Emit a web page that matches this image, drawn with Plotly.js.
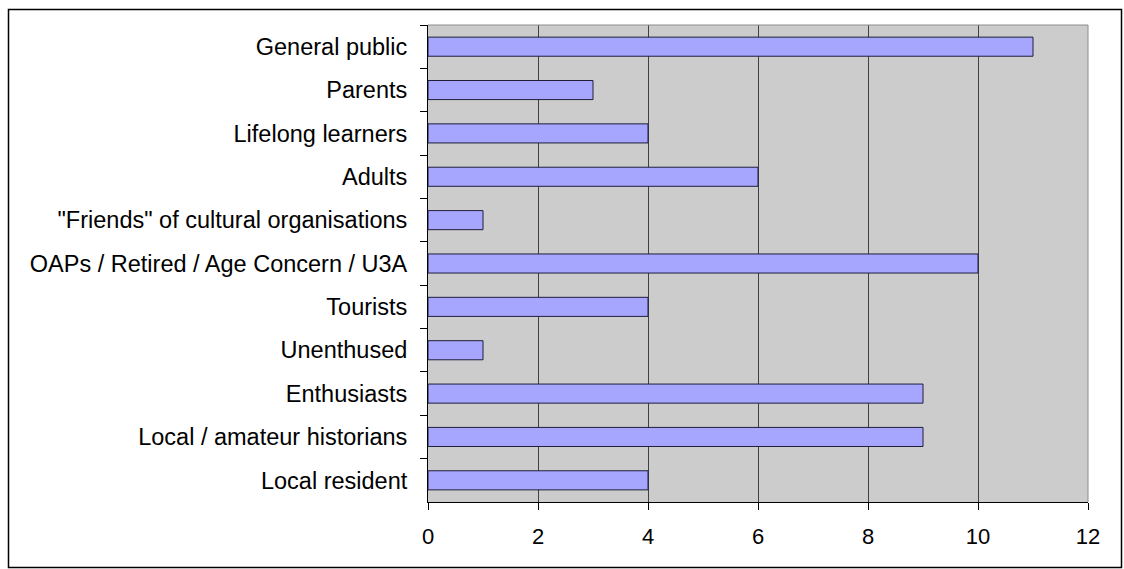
<!DOCTYPE html>
<html>
<head>
<meta charset="utf-8">
<script src="https://cdn.plot.ly/plotly-3.0.1.min.js"></script>
<style>
  html, body { margin: 0; padding: 0; background: #fff; }
  #chart { width: 1124px; height: 569px; }
</style>
</head>
<body>
<div id="chart"></div>
<script>
// Audience groups, listed from top to bottom
const groups = [
  "General public",
  "Parents",
  "Lifelong learners",
  "Adults",
  "\"Friends\" of cultural organisations",
  "OAPs / Retired / Age Concern / U3A",
  "Tourists",
  "Unenthused",
  "Enthusiasts",
  "Local / amateur historians",
  "Local resident"
];
const counts = [11, 3, 4, 6, 1, 10, 4, 1, 9, 9, 4];
const xTicks = [0, 2, 4, 6, 8, 10, 12];

const FONT = "Liberation Sans, Arial, sans-serif";

// plot area in pixels: left 428, right 1088, top 25, bottom 502
const W = 1124, H = 569;
const L = 428, R = 1088, T = 25, B = 502;
const px = v => (v - L) / (R - L);
const py = v => (B - v) / (B - T);

const trace = {
  type: "bar",
  orientation: "h",
  x: counts,
  y: groups,
  marker: { color: "#a6a6ff", line: { color: "#1e1e3c", width: 1 } },
  width: 0.44,
  hoverinfo: "x+y"
};

const layout = {
  width: W,
  height: H,
  margin: { l: L, r: W - R, t: T, b: H - B, pad: 0 },
  paper_bgcolor: "#ffffff",
  plot_bgcolor: "#cccccc",
  font: { family: FONT, size: 22, color: "#000" },
  showlegend: false,
  xaxis: {
    range: [0, 12],
    tickvals: xTicks,
    ticktext: xTicks.map(String),
    ticks: "outside",
    ticklen: 7,
    tickcolor: "#000",
    tickwidth: 1,
    showline: true,
    linecolor: "#000",
    linewidth: 1,
    showgrid: true,
    gridcolor: "#404040",
    gridwidth: 1,
    zeroline: false,
    ticklabelstandoff: 8,
    tickfont: { family: FONT, size: 22, color: "#000" },
    fixedrange: true
  },
  yaxis: {
    type: "category",
    categoryorder: "array",
    categoryarray: groups,
    autorange: "reversed",
    tickson: "boundaries",
    ticks: "outside",
    ticklen: 7,
    tickcolor: "#000",
    tickwidth: 1,
    showline: true,
    linecolor: "#000",
    linewidth: 1,
    showgrid: false,
    zeroline: false,
    ticklabelstandoff: 15,
    tickfont: { family: FONT, size: 23.5, color: "#000" },
    fixedrange: true
  },
  shapes: [
    // grey frame on the top and right edges of the plot area
    { type: "line", xref: "paper", yref: "paper", x0: 0, x1: 1, y0: 1, y1: 1,
      line: { color: "#8c8c8c", width: 1 }, layer: "above" },
    { type: "line", xref: "paper", yref: "paper", x0: 1, x1: 1, y0: 0, y1: 1,
      line: { color: "#8c8c8c", width: 1 }, layer: "above" },
    // outer chart border
    { type: "rect", xref: "paper", yref: "paper",
      x0: px(8.5), x1: px(1121.5), y0: py(567.5), y1: py(9.5),
      line: { color: "#000", width: 1.5 }, fillcolor: "rgba(0,0,0,0)", layer: "above" }
  ]
};

Plotly.newPlot("chart", [trace], layout, { displayModeBar: false, staticPlot: true });
</script>
</body>
</html>
